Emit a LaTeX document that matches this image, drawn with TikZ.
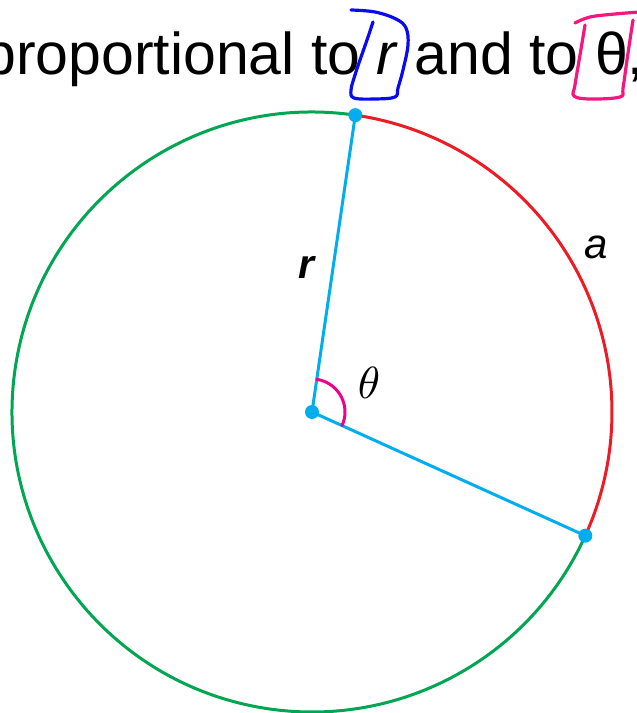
\documentclass[tikz,border=0pt]{standalone}
\usepackage{fontspec}
\setmainfont{Liberation Sans}
\usetikzlibrary{positioning}

\begin{document}
\begin{tikzpicture}[x=1pt, y=1pt, line cap=round, line join=round,
    dot/.style={fill=radblue},
    scribble/.style={line width=3.2pt}]
  \definecolor{arcgreen}{HTML}{00A651}
  \definecolor{arcred}{HTML}{ED1C24}
  \definecolor{radblue}{HTML}{00AEEF}
  \definecolor{anglepink}{HTML}{EC008C}
  \definecolor{penblue}{HTML}{0A0AF0}
  \definecolor{penpink}{HTML}{F5167E}

  \useasboundingbox (0,0) rectangle (637,713);

  % heading line
  \node[anchor=base west, inner sep=0pt] (title) at (-17, 638)
    {\fontsize{59}{59}\selectfont proportional to \textit{r} and to θ,};

  % hand-drawn marks round r and theta
  \draw[scribble, penblue] plot[smooth, tension=0.6] coordinates {
    (373,691) (367,673) (360,653) (355,638) (351,623) (354,615) (375,614)
    (395,616) (398,625) (403,643) (408,668) (406,685) (396,694) (375,701) (351,703)};
  \draw[scribble, penpink] plot[smooth, tension=0.6] coordinates {
    (575,690) (590,696) (615,699) (640,701)};
  \draw[scribble, penpink] plot[smooth, tension=0.6] coordinates {
    (585,688) (580,658) (575,628) (574,617) (590,614) (620,616) (623,625)
    (627,653) (633,693)};

  % circle and sector
  \coordinate (O) at (312,301);
  \coordinate (P) at ([shift={(O)}]81.7:300);
  \coordinate (Q) at ([shift={(O)}]-24.35:300);

  \draw[arcgreen, line width=3pt] (P) arc[start angle=81.7, end angle=335.65, radius=300];
  \draw[arcred, line width=3pt] (Q) arc[start angle=-24.35, end angle=81.7, radius=300];

  \draw[radblue, line width=3pt] (O) -- (P);
  \draw[radblue, line width=3pt] (O) -- (Q);
  \draw[anglepink, line width=3pt] ([shift={(O)}]81.7:33) arc[start angle=81.7, end angle=-24.35, radius=33];

  \fill[dot] (O) circle (7pt);
  \fill[dot] (P) circle (7pt);
  \fill[dot] (Q) circle (7pt);

  % labels
  \node[inner sep=0pt] (rlabel) at (306,446) {\fontsize{41}{41}\selectfont\bfseries\itshape r};
  \node[inner sep=0pt] (alabel) at (596,466) {\fontsize{42}{42}\selectfont\itshape a};
  \node[inner sep=0pt, scale=4.5] (thlabel) at (369,330) {$\theta$};
\end{tikzpicture}
\end{document}
